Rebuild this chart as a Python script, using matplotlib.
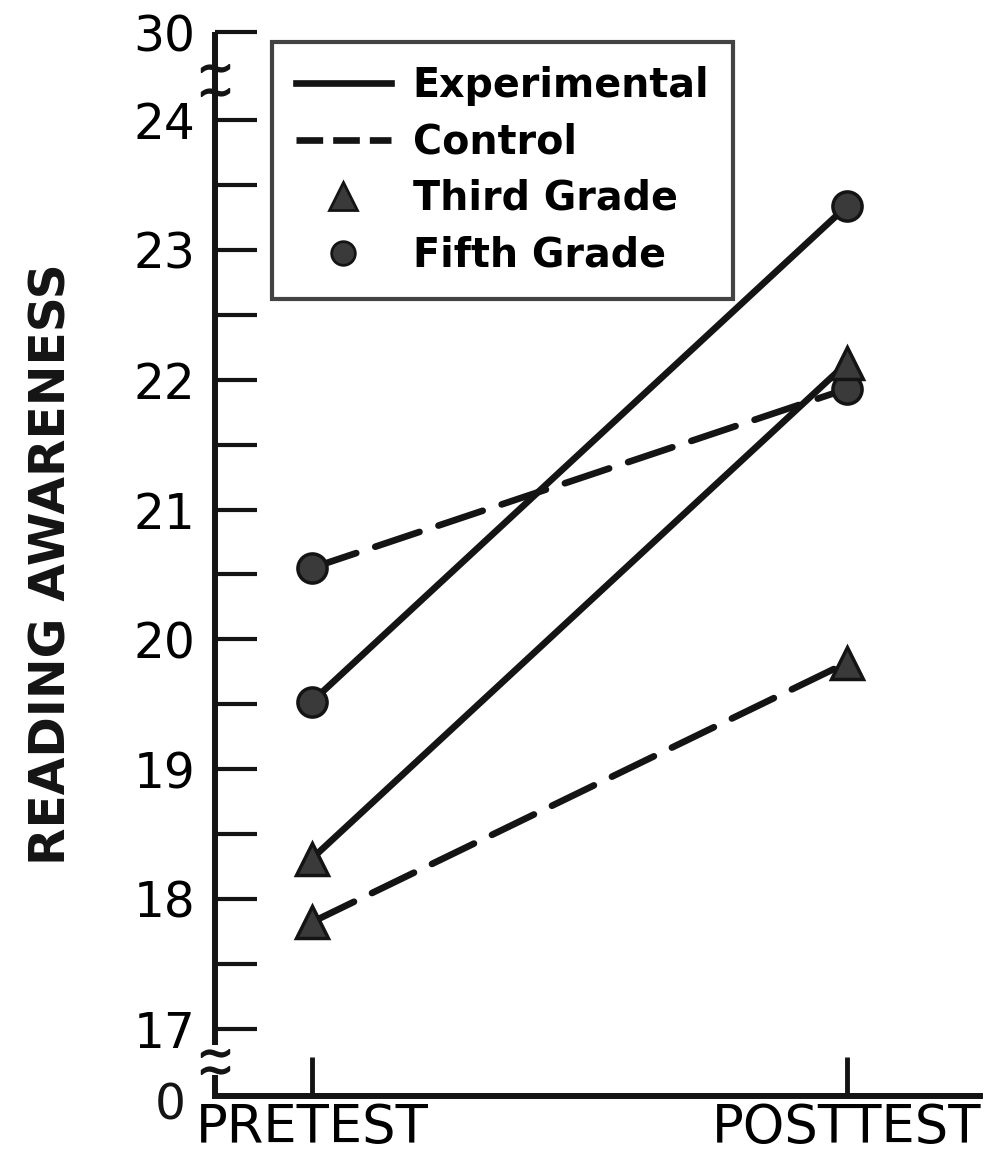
import matplotlib

matplotlib.use("Agg")
import matplotlib.pyplot as plt
from matplotlib.lines import Line2D

# data
tests = ["PRETEST", "POSTTEST"]
test_x = [1, 2]
exp_third = [18.31, 22.13]
exp_fifth = [19.52, 23.34]
ctl_third = [17.82, 19.82]
ctl_fifth = [20.55, 21.93]

major_ticks = [17, 18, 19, 20, 21, 22, 23, 24]
minor_ticks = [17.5, 18.5, 19.5, 20.5, 21.5, 22.5, 23.5]
# broken axis: "30" drawn just above 24, "0" just below 17
top_pos, top_label = 24.68, "30"
bottom_pos, bottom_label = 16.48, "0"

INK = "#141414"
FILL = "#3a3a3a"

plt.rcParams["font.family"] = ["DejaVu Sans"]

fig = plt.figure(figsize=(9.84, 11.63), dpi=100)
ax = fig.add_axes([215 / 984, 1 - 1096 / 1163, 1 - 215 / 984 - 0.004, (1096 - 32) / 1163])
ax.set_xlim(1 - 97 / 535, 2 + 133 / 535)
ax.set_ylim(bottom_pos, top_pos)

lw = 4.8
ms = 21
dash = (0, (7, 3))
ax.plot(test_x, exp_fifth, color=INK, lw=lw, solid_capstyle="round", zorder=3)
ax.plot(test_x, exp_third, color=INK, lw=lw, solid_capstyle="round", zorder=3)
ax.plot(test_x, ctl_fifth, color=INK, lw=lw, ls=dash, dash_capstyle="round", zorder=3)
ax.plot(test_x, ctl_third, color=INK, lw=lw, ls=dash, dash_capstyle="round", zorder=3)
for ys in (exp_fifth, ctl_fifth):
    ax.plot(test_x, ys, ls="none", marker="o", ms=ms, mfc=FILL, mec=INK, mew=2.5, zorder=4)
for ys in (exp_third, ctl_third):
    ax.plot(test_x, ys, ls="none", marker="^", ms=ms + 2, mfc=FILL, mec=INK, mew=2.5, zorder=4)

# spines: bottom normal, left drawn by hand with two breaks
for s in ("top", "right", "left"):
    ax.spines[s].set_visible(False)
ax.spines["bottom"].set_linewidth(4.3)
ax.spines["bottom"].set_color(INK)
tr = ax.get_yaxis_transform()
for y0, y1 in [(bottom_pos, 16.64), (16.87, 24.45), (24.19, top_pos)]:
    ax.plot([0, 0], [y0, y1], transform=tr, color=INK, lw=4.3,
            solid_capstyle="butt", clip_on=False)
# break marks as tilde markers
ax.plot([0] * 4, [16.68, 16.81, 24.22, 24.40], transform=tr, ls="none",
        marker=r"$\sim$", ms=20, color=INK, mew=1.2, clip_on=False)

ax.set_yticks(major_ticks + [top_pos])
ax.set_yticklabels([str(t) for t in major_ticks] + [top_label])
ax.set_yticks(minor_ticks, minor=True)
ax.tick_params(axis="y", which="both", direction="in", length=30, width=3,
               color=INK, labelsize=35, pad=14)
ax.set_xticks(test_x)
ax.set_xticklabels(tests)
ax.tick_params(axis="x", direction="in", length=28, width=3.5, color=INK,
               labelsize=38, pad=4)
ax.text(-0.059, 16.41, bottom_label, transform=tr, ha="center",
        va="center", fontsize=35, color=INK)

ax.set_ylabel("READING AWARENESS", fontsize=35, fontweight="bold",
              labelpad=42, color=INK)

handles = [
    Line2D([], [], color=INK, lw=lw),
    Line2D([], [], color=INK, lw=lw, ls=(0, (4, 1.5))),
    Line2D([], [], ls="none", marker="^", ms=20, mfc=FILL, mec=INK, mew=2),
    Line2D([], [], ls="none", marker="o", ms=17, mfc=FILL, mec=INK, mew=2),
]
labels = ["Experimental", "Control", "Third Grade", "Fifth Grade"]
leg = fig.legend(handles, labels, loc="upper left",
                 bbox_to_anchor=(272 / 984, 1 - 42 / 1163),
                 borderaxespad=0, prop={"size": 28.5, "weight": "bold"},
                 handlelength=2.4, handletextpad=0.55, labelspacing=0.42,
                 borderpad=0.6, fancybox=False, frameon=True)
leg.get_frame().set_edgecolor(INK)
leg.get_frame().set_linewidth(3)

fig.savefig("out.png", dpi=100)
